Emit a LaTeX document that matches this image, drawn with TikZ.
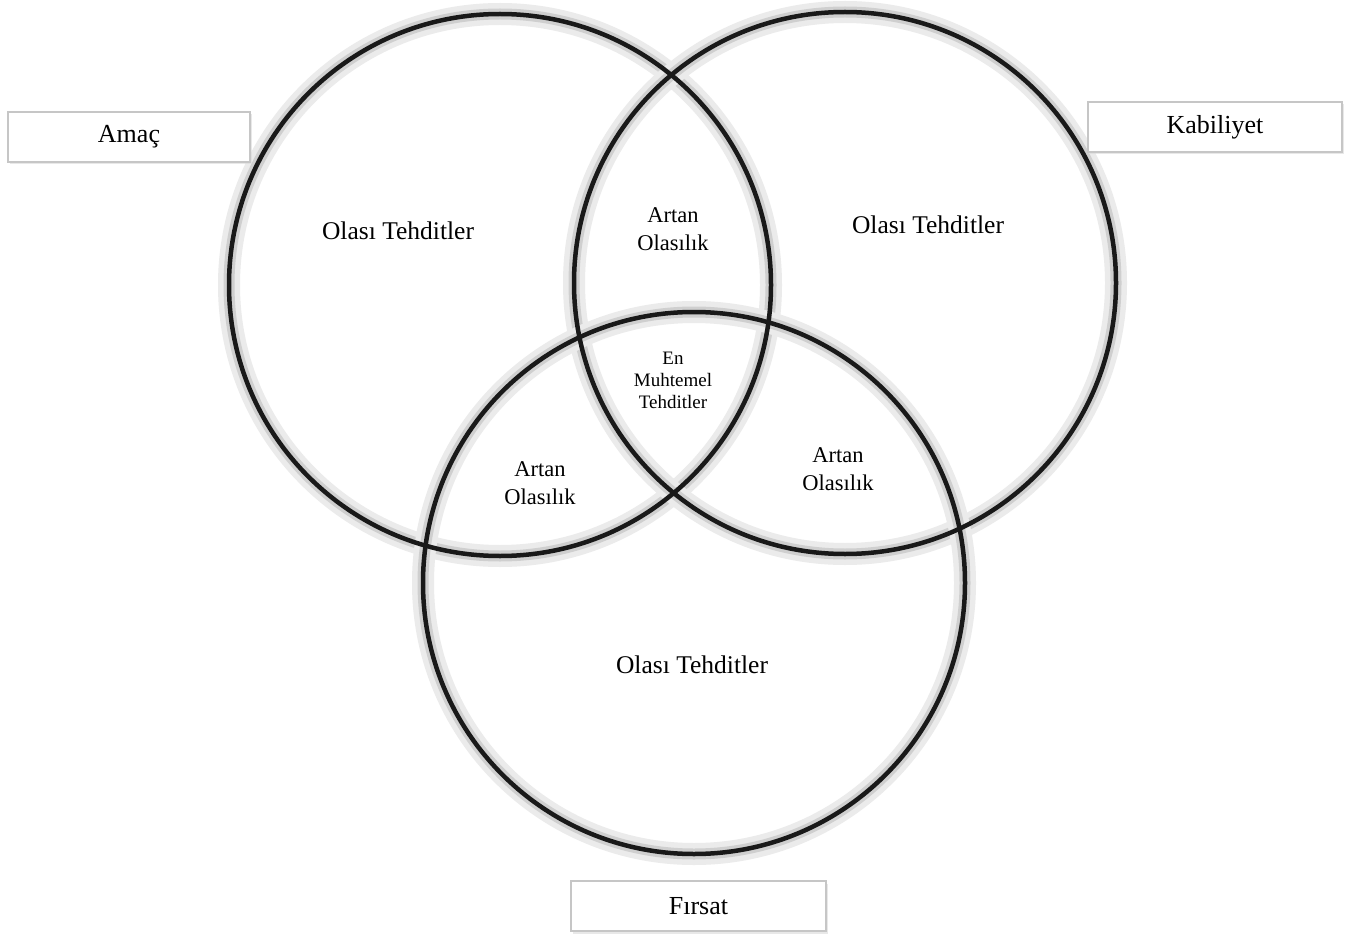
\documentclass[tikz,border=0pt]{standalone}
\usepackage{fontspec}
\setmainfont{Liberation Serif}
\usetikzlibrary{shadows}
\begin{document}
\begin{tikzpicture}[x=1pt,y=-1pt,
  venn/.style={circle, minimum size=542pt, inner sep=0pt, draw=black!90, line width=4.5pt},
  halo/.style={draw=gray!16, line width=22pt},
  haloin/.style={draw=gray!38, line width=11pt},
  labelbox/.style={draw=gray!45, line width=1.2pt, fill=white, inner sep=0pt,
     drop shadow={shadow xshift=2pt, shadow yshift=-2.5pt, fill=gray!30, opacity=0.6},
     font=\fontsize{26}{30}\selectfont},
  big/.style={font=\fontsize{25.5}{30}\selectfont, align=center},
  mid/.style={font=\fontsize{22.5}{28}\selectfont, align=center},
  small/.style={font=\fontsize{19}{22}\selectfont, align=center}
]
\useasboundingbox (0,0) rectangle (1355,936);
\fill[white] (0,0) rectangle (1355,936);
% halos
\foreach \cx/\cy in {500/285, 845/283, 694/583}{
  \draw[halo] (\cx,\cy) circle (271);
  \draw[haloin] (\cx,\cy) circle (271);
}
% circles
\node[venn] (amac) at (500,285) {};
\node[venn] (kab) at (845,283) {};
\node[venn] (firs) at (694,583) {};
% region texts
\node[big] (t1) at (398,231) {Olası Tehditler};
\node[big] (t2) at (928,225) {Olası Tehditler};
\node[big] (t3) at (692,665) {Olası Tehditler};
\node[mid] (a12) at (673,229) {Artan\\Olasılık};
\node[mid] (a13) at (540,483) {Artan\\Olasılık};
\node[mid] (a23) at (838,469) {Artan\\Olasılık};
\node[small] (en) at (673,380) {En\\Muhtemel\\Tehditler};
% label boxes
\node[labelbox, minimum width=242pt, minimum height=50pt] (bamac) at (129,137) {Amaç};
\node[labelbox, minimum width=254pt, minimum height=50pt] (bkab) at (1215,127) {Kabiliyet};
\node[labelbox, minimum width=255pt, minimum height=50pt] (bfirs) at (698.5,906) {Fırsat};
\end{tikzpicture}
\end{document}
